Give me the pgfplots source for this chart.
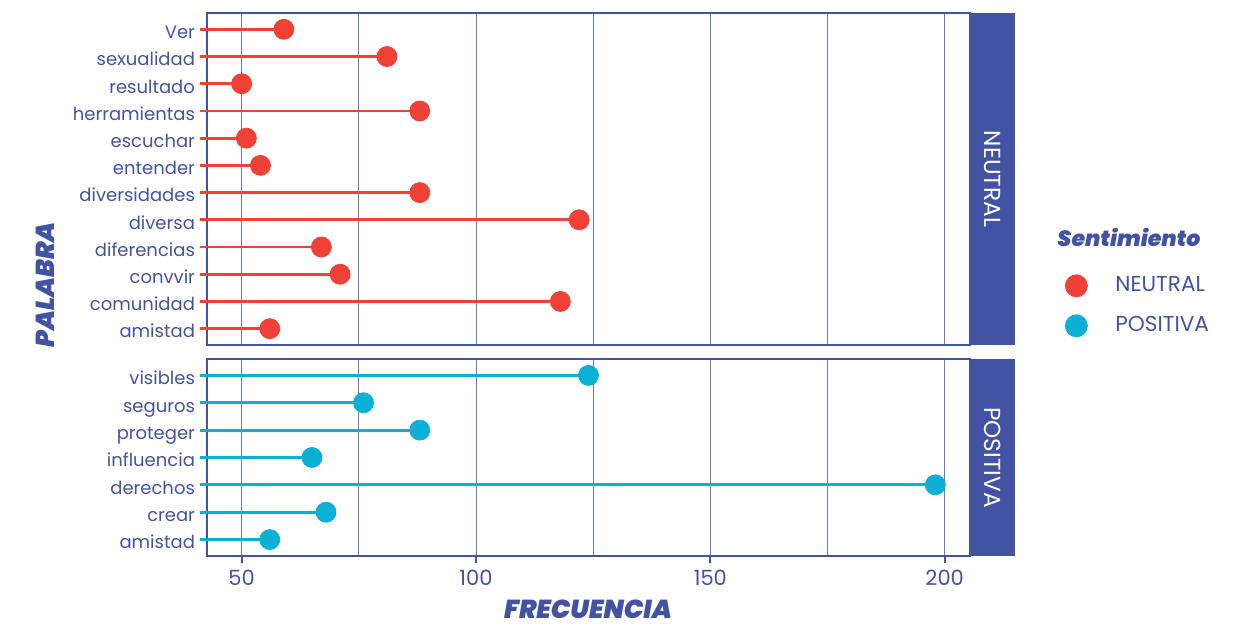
\documentclass[border=0pt]{standalone}
\usepackage{pgfplots}
\usepackage{pgfplotstable}
\pgfplotsset{compat=1.18}
\usepackage{fontspec}
\setmainfont{Poppins}
\IfFontExistsTF{Poppins Black Italic}
  {\newfontfamily\titlefont{Poppins Black Italic}}
  {\newfontfamily\titlefont{Poppins}[UprightFont=*-BoldItalic, UprightFeatures={FakeBold=1.5}]}

\definecolor{nblue}{HTML}{4353A3}
\definecolor{ngrid}{HTML}{6B79C2}
\definecolor{nred}{HTML}{EF4136}
\definecolor{ncyan}{HTML}{0BB0D7}

% NEUTRAL panel, rows from the bottom
\pgfplotstableread{
y  f
1  56
2  118
3  71
4  67
5  122
6  88
7  54
8  51
9  88
10 50
11 81
12 59
}\neutral

% POSITIVA panel
\pgfplotstableread{
y f
1 56
2 68
3 198
4 65
5 88
6 76
7 124
}\positiva

\pgfplotsset{
  panel/.style={
    scale only axis, width=381.5pt,
    xmin=42.6, xmax=205.4,
    clip=false,
    axis line style={nblue, line width=0.8pt},
    xtick={50,100,150,200}, minor xtick={75,125,175},
    xmajorgrids, xminorgrids,
    major grid style={ngrid, line width=0.5pt},
    minor grid style={ngrid, line width=0.5pt},
    tick pos=left, tick align=outside,
    major tick length=3.5pt, minor tick length=0pt,
    tick style={nblue, line width=1pt},
    yticklabel style={font=\fontsize{9}{11}\selectfont, text=nblue,
      text height=10.5pt, text depth=1.2pt, xshift=1pt},
    xticklabel style={font=\fontsize{10.5}{12}\selectfont, text=nblue},
    /pgf/number format/assume math mode=true,
  },
  stems/.style={draw=none, mark=none, forget plot,
    error bars/.cd, x dir=minus, x explicit, error mark=none,
    error bar style={draw=#1, line width=1.4pt}},
  dots/.style={only marks, mark=*, mark size=5pt, color=#1, mark options={draw=none, fill=#1}},
}
\tikzset{strip/.style={rotate=-90, text=white, font=\fontsize{11.6}{13}\selectfont}}

\begin{document}
\begin{tikzpicture}[x=0.5pt, y=0.5pt]
\useasboundingbox (0,0) rectangle (1248,624);

\begin{axis}[panel, name=top,
  at={(103.5pt,139.5pt)}, anchor=south west, height=166pt,
  ymin=0.4, ymax=12.6,
  ytick={1,...,12},
  yticklabels={amistad,comunidad,convvir,diferencias,diversa,diversidades,entender,escuchar,herramientas,resultado,sexualidad,Ver},
  xticklabels={}, xtick style={draw=none},
  legend style={at={(1.1245,0.118)}, anchor=west, draw=none, fill=none,
    inner sep=0pt, row sep=9pt, nodes={inner sep=0pt, text=nblue, font=\fontsize{10.8}{12}\selectfont},
    cells={anchor=west}},
  legend image code/.code={\path[draw=none, fill=none] (0pt,0pt) -- (25pt,0pt);
    \draw[#1, mark size=5.5pt] plot coordinates {(5.5pt,0pt)};},
]
\addplot[stems=nred] table[x=f, y=y, x error expr=\thisrow{f}-41.1] {\neutral};
\addplot[dots=nred] table[x=f, y=y] {\neutral};
\addlegendentry{NEUTRAL}
\addlegendimage{dots=ncyan}
\addlegendentry{POSITIVA}
\fill[nblue] (rel axis cs:1,0) rectangle ([xshift=22.5pt]rel axis cs:1,1);
\node[strip] at ([xshift=11.25pt]rel axis cs:1,0.5) {NEUTRAL};
\end{axis}

\begin{axis}[panel, name=bot,
  at={(103.5pt,34pt)}, anchor=south west, height=98.5pt,
  ymin=0.4, ymax=7.6,
  ytick={1,...,7},
  yticklabels={amistad,crear,derechos,influencia,proteger,seguros,visibles},
]
\addplot[stems=ncyan] table[x=f, y=y, x error expr=\thisrow{f}-41.1] {\positiva};
\addplot[dots=ncyan] table[x=f, y=y] {\positiva};
\fill[nblue] (rel axis cs:1,0) rectangle ([xshift=22.5pt]rel axis cs:1,1);
\node[strip] at ([xshift=11.25pt]rel axis cs:1,0.5) {POSITIVA};
\end{axis}

\node[rotate=90, inner sep=0pt, text=nblue, font=\fontsize{13}{15}\titlefont] at (45,339) {PALABRA};
\node[inner sep=0pt, text=nblue, font=\fontsize{13}{15}\titlefont] at (588,15) {FRECUENCIA};
\node[anchor=west, inner sep=0pt, text=nblue, font=\fontsize{11}{13}\titlefont] at (1057,387) {Sentimiento};
\end{tikzpicture}
\end{document}
